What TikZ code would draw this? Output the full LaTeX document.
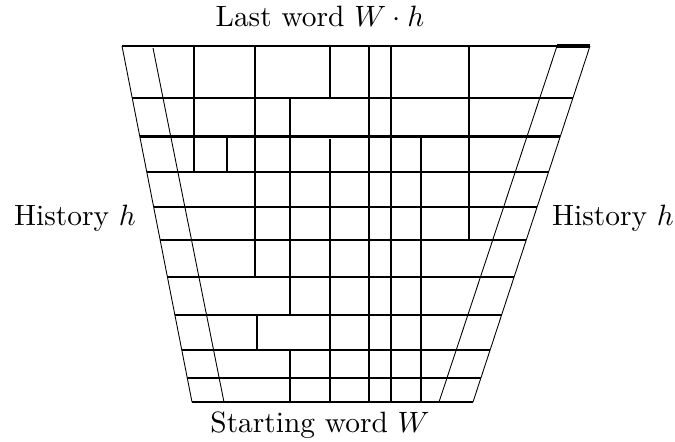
\documentclass[tikz,border=0pt]{standalone}
\begin{document}
\begin{tikzpicture}[x=0.34pt,y=-0.34pt,
    cell/.style={line width=0.6pt},
    heavy/.style={line width=0.9pt},
    side/.style={line width=0.3pt}]
        \useasboundingbox (0,0) rectangle (675,441);

        % Etiquetas
        \node[anchor=base] (lastword) at (320,26) {Last word $W\cdot h$};
        \node[anchor=base] (startword) at (320,432) {Starting word $W$};
        \node[anchor=base] (histleft) at (75,225) {History $h$};
        \node[anchor=base] (histright) at (613,225) {History $h$};

        % Lineas horizontales entre los bordes
        \foreach \y/\lw in {46/0.65, 98/0.6, 136.5/0.85, 172/0.6, 207/0.6, 240/0.6,
                            277/0.85, 315/0.65, 350/0.65, 378/0.65, 402/0.85}
            \draw[line width=\lw pt] ({122+(\y-46)/356*70},\y) -- ({590-(\y-46)/356*117},\y);

        % Lineas verticales
        \foreach \x/\a/\b in {194/46/172, 227/136.5/172, 255/46/277, 257/315/350,
                              290/98/315, 290/350/402, 330/46/98, 330/139/402,
                              391/46/402, 421/136.5/402, 469/46/240}
            \draw[cell] (\x,\a) -- (\x,\b);
        \draw[heavy] (369,46) -- (369,402);
        \foreach \x in {255,391,469}
            \draw[heavy] (\x,46) -- (\x,98);

        % Bordes inclinados
        \draw[side] (122,46) -- (192,402);
        \draw[side] (153,48) -- (224,402);
        \draw[side] (590,46) -- (473,402);
        \draw[side] (557,46) -- (439,402);
        \draw[line width=1.2pt] (557,46) -- (590,46);
    \end{tikzpicture}
\end{document}
